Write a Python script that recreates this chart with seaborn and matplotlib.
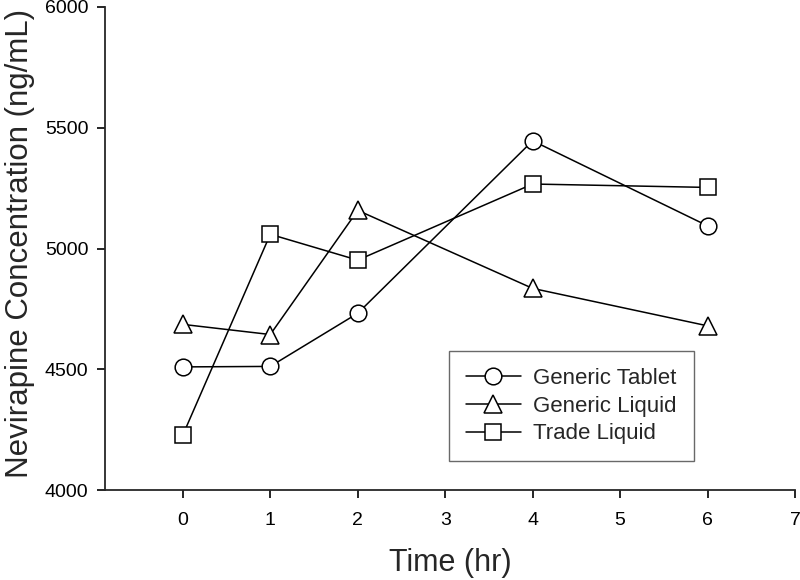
import numpy as np
import pandas as pd
import matplotlib
matplotlib.use("Agg")
import matplotlib.pyplot as plt
import seaborn as sns

# data
time_hr = [0, 1, 2, 4, 6]
generic_tablet = [4510, 4512, 4732, 5446, 5094]
generic_liquid = [4686, 4644, 5158, 4835, 4680]
trade_liquid = [4228, 5059, 4952, 5267, 5253]

series_names = ["Generic Tablet", "Generic Liquid", "Trade Liquid"]
series_vals = [generic_tablet, generic_liquid, trade_liquid]
markers = ["o", "^", "s"]
msizes = [12, 13, 11]

df = pd.concat([pd.DataFrame({"time": time_hr, "conc": v, "group": n})
                for n, v in zip(series_names, series_vals)], ignore_index=True)

sns.set_style("ticks")
plt.rcParams['font.family'] = ['Liberation Sans', 'DejaVu Sans']

fig = plt.figure(figsize=(8, 5.8), dpi=100)
ax = fig.add_axes([0.13125, 0.155, 0.8625, 0.833])

for n, m, ms in zip(series_names, markers, msizes):
    sub = df[df.group == n]
    sns.lineplot(data=sub, x="time", y="conc", ax=ax, color="black", lw=1.1,
                 marker=m, markersize=ms, markerfacecolor="white",
                 markeredgecolor="black", markeredgewidth=1.1, label=n)

ax.set_xlim(-0.89, 7)
ax.set_ylim(4000, 6000)
ax.set_xticks(range(0, 8))
ax.set_yticks([4000, 4500, 5000, 5500, 6000])
sns.despine(ax=ax)
ax.spines['left'].set_linewidth(1.3)
ax.spines['bottom'].set_linewidth(1.3)
ax.tick_params(axis='both', labelsize=14, direction='out', length=6, width=1.2,
               colors='black')
ax.tick_params(axis='y', pad=6)
ax.tick_params(axis='x', pad=10)

ax.set_xlabel("Time (hr)", fontsize=22, va='center')
ax.set_ylabel("Nevirapine Concentration (ng/mL)", fontsize=22.5, va='center')
ax.xaxis.set_label_coords(0.501, -0.15)
ax.yaxis.set_label_coords(-0.123, 0.511)

leg = ax.legend(loc="lower left", bbox_to_anchor=(0.4986, 0.06), fontsize=16,
                frameon=True, fancybox=False, edgecolor="#444444",
                handlelength=2.5, borderpad=0.75, labelspacing=0.3,
                handletextpad=0.55, borderaxespad=0)
leg.get_frame().set_linewidth(1.0)

fig.savefig("out.png", dpi=100)
